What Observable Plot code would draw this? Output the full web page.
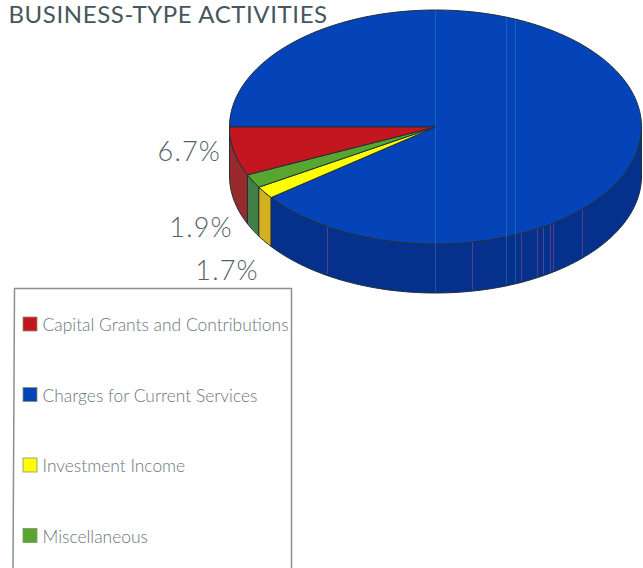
<!DOCTYPE html>
<html>
<head>
<meta charset="utf-8">
<style>
  html, body { margin: 0; padding: 0; background: #fff; overflow: hidden; }
  svg { display: block; }
  .pie-title, .pie-title text { letter-spacing: 0.6px; }
  .pie-share, .pie-share text { letter-spacing: 1.2px; }
</style>
<script src="https://cdn.jsdelivr.net/npm/d3@7"></script>
<script src="https://cdn.jsdelivr.net/npm/@observablehq/plot@0.6"></script>
</head>
<body>
<script>
// Revenue shares for business-type activities
const categories = ["Capital Grants and Contributions", "Charges for Current Services", "Investment Income", "Miscellaneous"];
const shares = [6.7, 89.7, 1.7, 1.9];
const topColors = ["#c4161f", "#0543b8", "#ffff00", "#56a62f"];
const sideColors = ["#962a2c", "#05308c", "#d2b020", "#427f46"];
const labelled = ["Capital Grants and Contributions", "Miscellaneous", "Investment Income"];
const labelTexts = ["6.7%", "1.9%", "1.7%"];

// Thin print streaks: teal ones cross the whole disc, purple ones stay on the wall
const tealStreaks = [435, 506, 515];
const purpleStreaks = [327, 472, 521, 537, 543, 550, 553, 582];

// Stacking order around the pie, starting from the left edge and running through the front
const sliceOrder = [0, 3, 2, 1];

const W = 643, H = 568;
const pie = { cx: 435, cy: 126.5, rx: 206, ry: 117, depth: 49 };
const rad = Math.PI / 180;
const ink = "#20303a";

const at = (deg, drop = 0) => ({
  x: pie.cx + pie.rx * Math.cos(deg * rad),
  y: pie.cy + pie.ry * Math.sin(deg * rad) + drop
});

function arcPoints(a0, a1, drop = 0) {
  const n = Math.max(2, Math.ceil(Math.abs(a1 - a0) / 1.5));
  return d3.range(n + 1).map(i => at(a0 + (a1 - a0) * i / n, drop));
}

// Angles run from 180 degrees downward, so each slice sweeps across the front of the disc
let cursor = 180;
const slices = sliceOrder.map(i => {
  const a0 = cursor;
  const a1 = cursor - shares[i] * 3.6;
  cursor = a1;
  return { name: categories[i], top: topColors[i], side: sideColors[i], a0, a1 };
});

const closed = pts => [...pts, pts[0]];
const pieLine = (pts, fill) =>
  Plot.line(pts, { x: "x", y: "y", fill, stroke: ink, strokeWidth: 1, curve: "linear", strokeLinejoin: "round" });

// Side walls: only the part of each slice facing the viewer, between 0 and 180 degrees
const walls = slices.map(s => {
  const hi = Math.min(s.a0, 180);
  const lo = Math.max(s.a1, 0);
  const pts = [...arcPoints(hi, lo), ...arcPoints(lo, hi, pie.depth)];
  return pieLine(closed(pts), s.side);
});

// Top faces; the large slice is drawn first so the thin wedges sit over it
const faces = [...slices].reverse().map(s =>
  pieLine(closed([{ x: pie.cx, y: pie.cy }, ...arcPoints(s.a0, s.a1)]), s.top)
);

// Half-height of the ellipse at a given horizontal position
const rimOffset = x => pie.ry * Math.sqrt(Math.max(0, 1 - ((x - pie.cx) / pie.rx) ** 2));

const tealRules = Plot.ruleX(tealStreaks, {
  x: d => d,
  y1: d => pie.cy - rimOffset(d) + 1,
  y2: d => pie.cy + rimOffset(d) + pie.depth - 1,
  stroke: "#3aa0b0", strokeWidth: 0.8, strokeOpacity: 0.45
});
const purpleRules = Plot.ruleX(purpleStreaks, {
  x: d => d,
  y1: d => pie.cy + rimOffset(d) + 1,
  y2: d => pie.cy + rimOffset(d) + pie.depth - 1,
  stroke: "#b0508f", strokeWidth: 0.8, strokeOpacity: 0.6
});

// Percentage labels hang off the lower rim, offset left of the slice they describe
const labelOffsets = [[-13, 1], [-20, 47], [-6, 79]];
const labelRows = labelled.map((name, i) => {
  const s = slices.find(d => d.name === name);
  const rim = at((s.a0 + s.a1) / 2);
  return { text: labelTexts[i], x: rim.x + labelOffsets[i][0], y: rim.y + labelOffsets[i][1] };
});

// Legend box, open at the foot of the page
const box = { left: 14, right: 291, top: 288, first: 324, step: 70.5 };
const legendRows = categories.map((name, i) => ({
  name,
  color: topColors[i],
  y: box.first + i * box.step
}));

const textFont = "Lato";

const chart = Plot.plot({
  width: W,
  height: H,
  margin: 0,
  style: { background: "#fff", fontFamily: textFont },
  x: { domain: [0, W], range: [0, W], axis: null },
  y: { domain: [0, H], range: [0, H], axis: null },
  marks: [
    ...walls,
    ...faces,
    tealRules,
    purpleRules,
    Plot.text(labelRows, {
      x: "x", y: "y", text: "text", textAnchor: "end",
      fontSize: 27, fontWeight: 300, fill: "#555f64", className: "pie-share"
    }),
    Plot.text(["BUSINESS-TYPE ACTIVITIES"], {
      x: () => 8, y: () => 14.5, text: d => d, textAnchor: "start",
      fontSize: 24, fontWeight: 400, fill: "#46565c", className: "pie-title"
    }),
    Plot.line(
      [{ x: box.left - 1.5, y: H }, { x: box.left, y: box.top }, { x: box.right, y: box.top }, { x: box.right, y: H }],
      { x: "x", y: "y", stroke: "#87918f", strokeWidth: 1.5 }
    ),
    Plot.rect(legendRows, {
      x1: () => 23, x2: () => 37,
      y1: d => d.y - 7, y2: d => d.y + 7,
      fill: "color", stroke: "#8a8f70", strokeWidth: 0.8
    }),
    Plot.text(legendRows, {
      x: () => 42, y: d => d.y + 1, text: "name", textAnchor: "start",
      fontSize: 17.4, fontWeight: 300, fill: "#6c7679"
    })
  ]
});
document.body.appendChild(chart);
</script>
</body>
</html>
